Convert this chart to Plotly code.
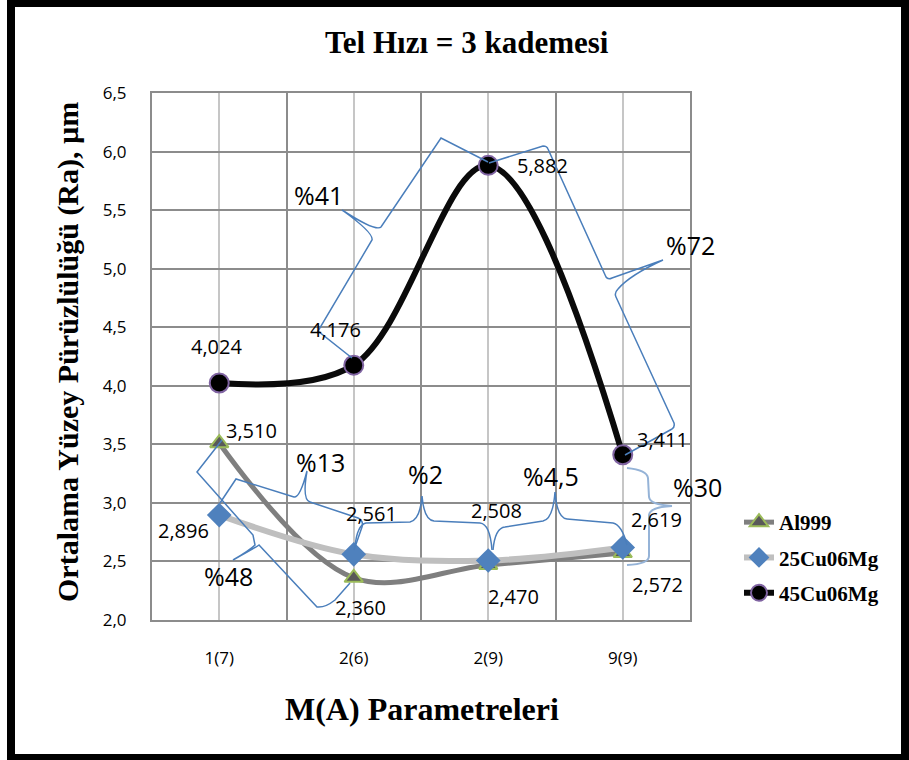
import plotly.graph_objects as go

# ---------------- data ----------------
categories = ["1(7)", "2(6)", "2(9)", "9(9)"]
al999 = [3.510, 2.360, 2.470, 2.572]
cu25 = [2.896, 2.561, 2.508, 2.619]
cu45 = [4.024, 4.176, 5.882, 3.411]
series_names = ["Al999", "25Cu06Mg", "45Cu06Mg"]
pct_texts = ["%41", "%72", "%13", "%48", "%2", "%4,5", "%30"]
y_ticks = [2.0, 2.5, 3.0, 3.5, 4.0, 4.5, 5.0, 5.5, 6.0, 6.5]

# ---------------- layout geometry ----------------
W, H = 909, 760
L, R, T, B = 152, 219, 93, 140
PW, PH = W - L - R, H - T - B


def px(x):
    return (x - L) / PW


def py(y):
    return (H - B - y) / PH


def path(cmds):
    out = []
    for c in cmds:
        op, pts = c[0], c[1:]
        coords = []
        for i in range(0, len(pts), 2):
            coords.append(f"{px(pts[i]):.5f},{py(pts[i+1]):.5f}")
        out.append(op + " ".join(coords))
    return " ".join(out)


xs = list(range(1, len(categories) + 1))

fig = go.Figure()

styles = [
    dict(line=dict(color="#7f7f7f", width=5, shape="spline", smoothing=1),
         marker=dict(symbol="triangle-up", size=16, color="#595959",
                     line=dict(color="#9bbb59", width=2))),
    dict(line=dict(color="#bfbfbf", width=6, shape="spline", smoothing=1),
         marker=dict(symbol="diamond", size=19, color="#4f81bd",
                     line=dict(width=0))),
    dict(line=dict(color="#0a0a0a", width=6, shape="spline", smoothing=1),
         marker=dict(symbol="circle", size=19, color="#000000",
                     line=dict(color="#8064a2", width=2))),
]
for name, vals, st in zip(series_names, [al999, cu25, cu45], styles):
    fig.add_trace(go.Scatter(x=xs, y=vals, name=f"<b>{name}</b>",
                             mode="lines+markers", legendgroup=name,
                             line=st["line"], marker=st["marker"]))

# ---------------- data labels ----------------
label_offsets = {
    "Al999": [(32, 13), (7, -30), (25, -32), (35, -31)],
    "25Cu06Mg": [(-36, -15), (18, 41), (8, 50), (34, 28)],
    "45Cu06Mg": [(-3, 36), (-18, 36), (54, 0), (40, 15)],
}
annotations = []
for name, vals in zip(series_names, [al999, cu25, cu45]):
    for xi, v, (dx, dy) in zip(xs, vals, label_offsets[name]):
        annotations.append(dict(
            x=xi, y=v, xref="x", yref="y", text=f"{v:.3f}".replace(".", ","),
            showarrow=False, xshift=dx, yshift=dy,
            xanchor="center", yanchor="middle",
            font=dict(family="Open Sans", size=20, color="#000000")))

# ---------------- percentage labels ----------------
pct_pos = [(318, 195), (690, 245), (320, 462), (228, 576), (425, 474),
           (551, 476), (697, 487)]
for t, (x0, y0) in zip(pct_texts, pct_pos):
    annotations.append(dict(x=px(x0), y=py(y0), xref="paper", yref="paper",
                            text=t, showarrow=False,
                            xanchor="center", yanchor="middle",
                            font=dict(family="Open Sans", size=25, color="#000000")))

# ---------------- titles ----------------
serif = "Liberation Serif"
annotations.append(dict(x=px(467), y=py(43), xref="paper", yref="paper",
                        text="<b>Tel Hızı = 3 kademesi</b>", showarrow=False,
                        xanchor="center", yanchor="middle",
                        font=dict(family=serif, size=31, color="#000000")))
annotations.append(dict(x=px(422), y=py(709), xref="paper", yref="paper",
                        text="<b>M(A) Parametreleri</b>", showarrow=False,
                        xanchor="center", yanchor="middle",
                        font=dict(family=serif, size=32, color="#000000")))
annotations.append(dict(x=px(68), y=py(352), xref="paper", yref="paper",
                        text="<b>Ortalama Yüzey Pürüzlülüğü (Ra), µm</b>",
                        showarrow=False, textangle=-90,
                        xanchor="center", yanchor="middle",
                        font=dict(family=serif, size=30, color="#000000")))

# ---------------- braces ----------------
brace_blue = "#4a7ebb"
braces = [
    [("M", 352, 358), ("L", 318, 331), ("L", 372, 240),
     ("Q", 374, 233, 342, 210), ("Q", 376, 232, 381, 227),
     ("L", 441, 138), ("L", 488, 162)],
    [("M", 489, 163), ("L", 543, 146), ("Q", 547, 146, 548, 149),
     ("L", 606, 277), ("Q", 608, 280, 612, 278), ("Q", 640, 268, 663, 260),
     ("Q", 630, 275, 618, 289), ("Q", 614, 293, 616, 297), ("L", 674, 423),
     ("Q", 675, 427, 672, 429), ("L", 625, 455)],
    [("M", 220, 503), ("L", 236, 479), ("L", 294, 497),
     ("Q", 300, 498, 307, 471), ("Q", 302, 500, 310, 502),
     ("L", 358, 518), ("Q", 364, 521, 362, 527), ("L", 354, 550)],
    [("M", 222, 440), ("L", 197, 472), ("L", 253, 535), ("L", 255, 545),
     ("Q", 250, 550, 233, 560), ("Q", 255, 548, 259, 545),
     ("L", 317, 607), ("Q", 325, 608, 335, 600), ("L", 350, 583)],
    [("M", 355, 547), ("Q", 357, 525, 366, 523), ("L", 410, 522),
     ("Q", 420, 520, 422, 496), ("Q", 424, 520, 434, 521), ("L", 480, 523),
     ("Q", 490, 524, 492, 550)],
    [("M", 493, 550), ("Q", 495, 528, 505, 527), ("L", 543, 521),
     ("Q", 553, 519, 555, 492), ("Q", 557, 518, 567, 519), ("L", 613, 523),
     ("Q", 622, 525, 627, 545)],
]
shapes = []
for b in braces:
    shapes.append(dict(type="path", xref="paper", yref="paper", path=path(b),
                       line=dict(color=brace_blue, width=1.5), layer="above"))
shapes.append(dict(type="path", xref="paper", yref="paper",
                   path=path([("M", 627, 468), ("Q", 647, 470, 648, 478),
                              ("L", 649, 497), ("Q", 650, 505, 672, 506),
                              ("Q", 650, 507, 649, 515), ("L", 649, 556),
                              ("Q", 649, 564, 627, 565)]),
                   line=dict(color="#95b3d7", width=2), layer="above"))

# outer frame
shapes.append(dict(type="rect", xref="paper", yref="paper",
                   x0=px(11), x1=px(905), y0=py(3), y1=py(758),
                   line=dict(color="#000000", width=8), layer="above"))

grid_dark = "#8c8c8c"
grid_light = "#c6c6c6"

fig.update_layout(
    width=W, height=H, autosize=False,
    margin=dict(l=L, r=R, t=T, b=B, pad=0),
    paper_bgcolor="#ffffff", plot_bgcolor="#ffffff",
    separators=",.",
    showlegend=True,
    legend=dict(x=px(739), y=py(502), xanchor="left", yanchor="top",
                font=dict(family=serif, size=21, color="#000000"),
                tracegroupgap=5, bgcolor="rgba(0,0,0,0)"),
    annotations=annotations,
    shapes=shapes,
    xaxis=dict(range=[0.5, len(categories) + 0.5], tickvals=xs, ticktext=categories,
               showgrid=True, gridcolor=grid_light, gridwidth=2,
               minor=dict(tickvals=[i + 0.5 for i in range(0, len(categories) + 1)],
                          showgrid=True, gridcolor=grid_dark, gridwidth=2),
               showline=True, linecolor=grid_dark, linewidth=2, mirror=True,
               zeroline=False, ticks="", ticklabelstandoff=22,
               tickfont=dict(family="Open Sans", size=17, color="#000000")),
    yaxis=dict(range=[2.0, 6.5], tickvals=y_ticks, tickformat=".1f",
               showgrid=True, gridcolor=grid_dark, gridwidth=2,
               showline=True, linecolor=grid_dark, linewidth=2, mirror=True,
               zeroline=False, ticks="", ticklabelstandoff=20,
               tickfont=dict(family="Open Sans", size=17, color="#000000")),
)

fig.write_html("out.html")
